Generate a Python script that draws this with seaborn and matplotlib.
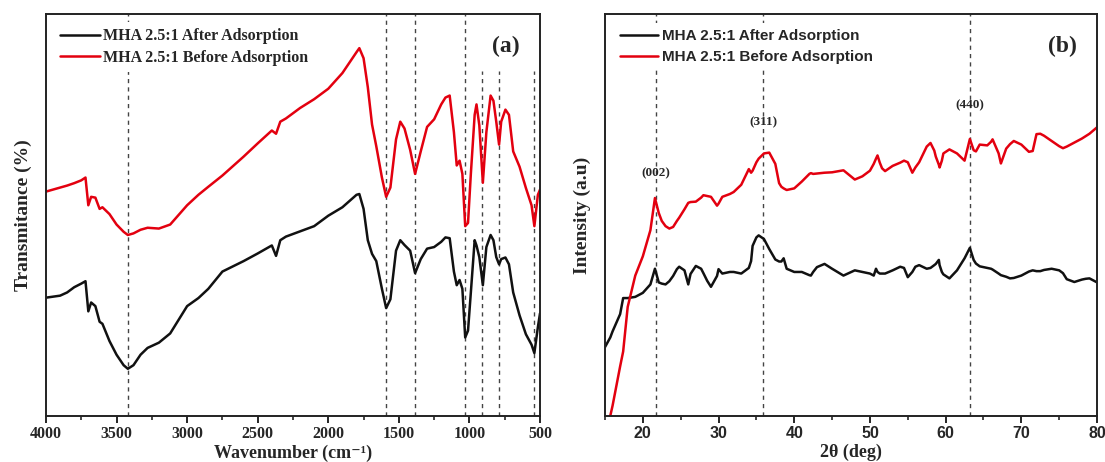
import matplotlib
matplotlib.use("Agg")
import matplotlib.pyplot as plt
import seaborn as sns
import pandas as pd
from matplotlib.ticker import MultipleLocator

# ---- FTIR (a) ----
ftir_wn = [4000, 3900, 3850, 3800, 3750, 3720, 3700, 3680, 3650, 3620, 3600, 3550, 3500, 3450,
           3420, 3380, 3330, 3280, 3200, 3120, 3000, 2920, 2850, 2750, 2600, 2500, 2400, 2370,
           2340, 2300, 2200, 2100, 2000, 1900, 1800, 1780, 1750, 1720, 1690, 1660, 1620, 1590,
           1560, 1520, 1490, 1460, 1420, 1385, 1345, 1300, 1250, 1200, 1170, 1140, 1110, 1090,
           1070, 1050, 1030, 1010, 990, 963, 950, 930, 905, 880, 850, 830, 810, 790, 775, 745,
           720, 690, 645, 600, 560, 540, 515, 500]
ftir_before = [55.8, 56.8, 57.3, 57.9, 58.6, 59.3, 52.4, 54.5, 54.3, 51.5, 51.9, 50.2, 47.6, 45.8,
               45.0, 45.4, 46.3, 46.8, 46.6, 47.6, 52.4, 55.0, 57.0, 59.8, 64.5, 67.8, 71.0, 70.2,
               73.2, 74.0, 76.6, 78.8, 81.4, 85.3, 90.5, 91.5, 89.0, 81.8, 72.5, 67.1, 59.3, 54.5,
               56.8, 68.8, 73.2, 71.5, 66.2, 60.2, 65.8, 71.9, 73.8, 77.5, 79.2, 79.7, 70.6, 62.3,
               63.5, 60.2, 47.2, 48.0, 60.2, 74.9, 77.5, 72.3, 58.0, 70.6, 79.7, 78.4, 73.2, 67.5,
               73.2, 76.2, 74.9, 65.8, 62.0, 56.7, 52.4, 47.2, 55.0, 56.3]
ftir_after = [29.4, 29.9, 30.7, 32.0, 32.9, 33.5, 26.0, 28.2, 27.3, 23.4, 22.9, 18.6, 15.2, 12.6,
              11.7, 12.6, 15.2, 16.9, 18.2, 20.5, 27.3, 29.3, 31.6, 35.9, 38.5, 40.4, 42.4, 39.8,
              43.7, 44.6, 45.9, 47.2, 49.8, 51.9, 55.0, 55.2, 51.5, 43.7, 40.3, 38.5, 31.6, 26.8,
              29.0, 41.1, 43.7, 42.5, 41.1, 35.5, 39.0, 41.6, 42.0, 43.3, 44.4, 44.2, 35.9, 32.5,
              33.8, 31.6, 19.5, 21.2, 30.7, 43.7, 42.4, 39.5, 32.5, 42.0, 45.0, 43.7, 39.5, 37.7,
              39.0, 39.4, 37.7, 30.7, 25.0, 20.3, 17.7, 15.6, 22.1, 25.5]
ftir_marks = [3420, 1590, 1385, 1030, 910, 790, 545]
ftir_mark_top = [1.0, 1.0, 1.0, 1.0, 0.857, 0.857, 0.857]

# ---- XRD (b) ----
xrd_2t = [15.0, 15.7, 16.0, 17.0, 17.4, 18.0, 19.0, 20.0, 21.0, 21.6, 22.1, 22.5, 23.0, 23.5, 24.0,
          24.5, 24.8, 25.5, 26.0, 26.3, 27.0, 27.7, 28.0, 28.5, 29.0, 29.8, 30.0, 30.5, 31.5, 32.0,
          33.0, 34.0, 34.3, 34.5, 35.0, 35.3, 36.0, 36.7, 37.5, 38.0, 38.3, 38.6, 39.0, 40.0, 41.0,
          42.0, 42.2, 42.5, 43.0, 44.0, 45.0, 46.5, 48.0, 49.0, 50.0, 50.5, 50.8, 51.0, 51.3, 51.6,
          52.0, 53.0, 54.0, 54.5, 55.0, 55.6, 56.0, 56.5, 57.5, 58.0, 58.5, 58.7, 59.1, 59.2, 59.5,
          59.7, 60.5, 61.5, 62.5, 63.2, 63.7, 64.0, 64.5, 65.0, 65.5, 66.0, 66.2, 67.0, 67.3, 68.0,
          68.5, 69.0, 70.0, 71.0, 71.5, 72.0, 72.5, 73.0, 74.0, 75.0, 75.5, 76.0, 77.0, 78.0, 78.5,
          79.0, 80.0]
xrd_before = [None, 0.0, 2.5, 12.3, 16.0, 27.1, 34.9, 39.7, 46.2, 54.2, 50.5, 48.5, 47.2, 46.6, 47.0,
              48.5, 49.3, 51.4, 53.0, 53.2, 53.3, 54.3, 54.9, 54.7, 54.5, 52.3, 52.8, 54.5, 55.2, 55.7,
              57.5, 61.4, 60.5, 61.0, 63.1, 64.0, 65.3, 65.5, 62.7, 57.9, 57.0, 56.6, 56.2, 56.6, 58.3,
              60.2, 60.4, 60.2, 60.3, 60.5, 60.6, 61.1, 58.8, 59.6, 61.0, 62.7, 64.0, 64.8, 63.0, 61.6,
              60.9, 62.2, 63.0, 63.5, 63.1, 60.5, 61.8, 63.1, 67.0, 67.9, 66.0, 64.5, 62.5, 61.8, 63.5,
              65.3, 66.3, 65.3, 63.5, 68.9, 66.1, 65.8, 67.5, 67.4, 67.3, 68.2, 68.8, 65.3, 62.8, 66.5,
              67.6, 68.4, 67.5, 65.7, 65.9, 70.1, 70.2, 69.7, 68.4, 67.1, 66.6, 67.0, 68.0, 69.0, 69.6,
              70.2, 71.8]
xrd_after = [17.1, 19.5, 21.0, 25.3, 29.3, 29.3, 29.6, 30.6, 32.7, 36.6, 33.2, 32.9, 32.7, 33.5, 34.8,
             36.5, 37.1, 36.2, 32.7, 35.3, 37.3, 36.6, 35.5, 33.6, 32.1, 34.8, 36.5, 35.4, 35.8, 35.8,
             35.4, 36.8, 38.5, 42.3, 44.4, 44.9, 44.0, 41.5, 38.9, 38.4, 38.4, 39.2, 36.6, 35.8, 35.8,
             35.0, 34.9, 35.8, 37.0, 37.8, 36.6, 34.9, 36.2, 35.8, 35.4, 34.9, 36.6, 35.8, 35.4, 35.4,
             35.4, 36.2, 37.1, 36.8, 34.5, 35.8, 37.1, 37.5, 36.6, 36.8, 37.5, 37.8, 38.8, 37.5, 35.8,
             35.2, 34.2, 36.2, 39.2, 41.8, 38.8, 37.9, 37.2, 37.0, 36.8, 36.6, 36.4, 35.4, 35.0, 34.6,
             34.2, 34.3, 34.9, 35.9, 36.2, 36.0, 36.0, 36.3, 36.6, 36.2, 35.5, 34.0, 33.3, 33.9, 34.1,
             34.2, 33.2]
xrd_marks = [21.7, 35.9, 63.2]
xrd_hkl = ["(002)", "(311)", "(440)"]
xrd_hkl_y = [58.9, 71.6, 75.9]

labels = ["MHA 2.5:1 After Adsorption", "MHA 2.5:1 Before Adsorption"]
colors = ["#111111", "#e3000f"]

sns.set_theme(style="white")
plt.rcParams["font.family"] = ["Liberation Serif", "DejaVu Serif"]
plt.rcParams["font.weight"] = "bold"
plt.rcParams["axes.linewidth"] = 1.4

fig = plt.figure(figsize=(11.05, 4.62), dpi=100)
ax_a = fig.add_axes([0.0416, 0.1, 0.4471, 0.8697])
ax_b = fig.add_axes([0.5475, 0.1, 0.4453, 0.8697])

ftir = pd.DataFrame({"wn": ftir_wn, labels[0]: ftir_after, labels[1]: ftir_before})
ftir = ftir.melt(id_vars="wn", var_name="sample", value_name="T")
sns.lineplot(data=ftir, x="wn", y="T", hue="sample", palette=colors, estimator=None,
             sort=False, linewidth=1.8, ax=ax_a)
for wn, top in zip(ftir_marks, ftir_mark_top):
    ax_a.axvline(wn, ymin=0, ymax=top, color="#444444", ls=(0, (3, 3)), lw=1.0, zorder=0)

ax_a.set_xlim(4000, 500)
ax_a.set_ylim(0, 100)
ax_a.xaxis.set_major_locator(MultipleLocator(500))
ax_a.xaxis.set_minor_locator(MultipleLocator(250))
ax_a.set_xlabel("Wavenumber (cm⁻¹)", fontsize=13, fontweight="bold", labelpad=2)
ax_a.set_ylabel("Transmitance (%)", fontsize=14, fontweight="bold", labelpad=10)
ax_a.text(0.93, 0.92, "(a)", transform=ax_a.transAxes, fontsize=17, fontweight="bold",
          ha="center", va="center")
leg = ax_a.legend(loc="upper left", frameon=True, fontsize=11.5, handlelength=2.5,
                  borderaxespad=0.5, labelspacing=0.35, handletextpad=0.2)
leg.get_frame().set_edgecolor("none")
leg.get_frame().set_facecolor("white")
leg.get_frame().set_alpha(1)
for t in leg.get_texts():
    t.set_fontweight("bold")

xrd = pd.DataFrame({"tt": xrd_2t, labels[0]: xrd_after, labels[1]: xrd_before})
xrd = xrd.melt(id_vars="tt", var_name="sample", value_name="I").dropna()
sns.lineplot(data=xrd, x="tt", y="I", hue="sample", palette=colors, estimator=None,
             sort=False, linewidth=1.8, ax=ax_b)
for tt, hkl, hy in zip(xrd_marks, xrd_hkl, xrd_hkl_y):
    ax_b.axvline(tt, color="#444444", ls=(0, (3, 3)), lw=1.0, zorder=0)
    ax_b.text(tt, hy, hkl, ha="center", va="bottom", fontsize=9.5, fontweight="bold")

ax_b.set_xlim(15, 80)
ax_b.set_ylim(0, 100)
ax_b.xaxis.set_major_locator(MultipleLocator(10))
ax_b.xaxis.set_minor_locator(MultipleLocator(5))
ax_b.set_xlabel("2θ (deg)", fontsize=13, fontweight="bold", labelpad=2)
ax_b.set_ylabel("Intensity (a.u)", fontsize=14, fontweight="bold", labelpad=10)
ax_b.text(0.93, 0.92, "(b)", transform=ax_b.transAxes, fontsize=17, fontweight="bold",
          ha="center", va="center")
leg = ax_b.legend(loc="upper left", frameon=True, handlelength=2.5,
                  borderaxespad=0.6, labelspacing=0.45, handletextpad=0.2,
                  prop={"family": "Liberation Sans", "weight": "bold", "size": 11})
leg.get_frame().set_edgecolor("none")
leg.get_frame().set_facecolor("white")
leg.get_frame().set_alpha(1)

for ax in (ax_a, ax_b):
    ax.set_yticks([])
    ax.tick_params(axis="x", which="major", direction="out", length=5, width=1.4,
                   bottom=True, pad=2)
    ax.tick_params(axis="x", which="minor", direction="out", length=3, width=1.2, bottom=True)
    for s in ax.spines.values():
        s.set_color("#222222")
        s.set_linewidth(1.4)

for t in ax_a.get_xticklabels():
    t.set_fontsize(11.5)
    t.set_fontweight("bold")
for t in ax_b.get_xticklabels():
    t.set_fontsize(11.5)
    t.set_fontweight("bold")
    t.set_family("Liberation Sans")

fig.savefig("out.png", dpi=100)
